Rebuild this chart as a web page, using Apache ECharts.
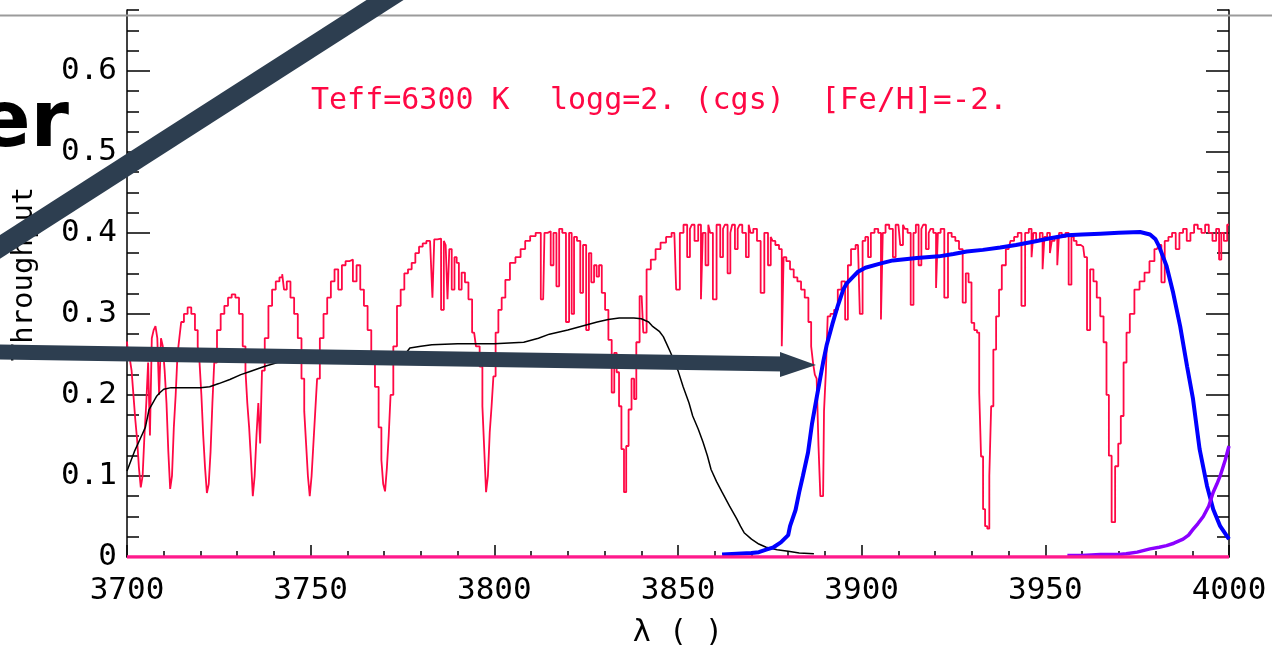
<!DOCTYPE html>
<html><head><meta charset="utf-8">
<script src="https://cdn.jsdelivr.net/npm/echarts@6/dist/echarts.min.js"></script>
<style>html,body{margin:0;padding:0;background:#fff}#c{width:1272px;height:650px}</style>
</head><body><div id="c"></div>
<script>
// ---- data ----
const xTicks = [3700, 3750, 3800, 3850, 3900, 3950, 4000];
const yTicks = [0, 0.1, 0.2, 0.3, 0.4, 0.5, 0.6];
const titleParts = ['Teff=6300 K', 'logg=2. (cgs)', '[Fe/H]=-2.'];
const xName = 'λ ( )';
const yName = 'Throughput';

// synthetic stellar spectrum [wavelength, flux]
const redSpectrum = [
[3700,0.266],[3700.5,0.25],[3701,0.245],[3701.5,0.23],[3702,0.20],[3702.5,0.17],[3703,0.145],[3703.5,0.11],[3704,0.086],[3704.5,0.10],
[3705,0.15],[3705.5,0.19],[3706,0.24],[3706.5,0.15],[3707,0.27],[3707.5,0.28],[3708,0.285],[3708.5,0.27],[3709,0.20],[3709.5,0.27],
[3710,0.26],[3710.5,0.23],[3711,0.19],[3711.5,0.13],[3712,0.084],[3712.5,0.10],[3713,0.16],[3713.5,0.20],[3714,0.25],[3714.5,0.27],
[3715,0.29],[3716,0.30],[3717,0.308],[3718,0.30],[3719,0.28],[3719.5,0.26],[3720,0.24],[3720.5,0.20],[3721,0.15],[3721.5,0.11],
[3722,0.079],[3722.5,0.09],[3723,0.13],[3723.5,0.19],[3724,0.24],[3725,0.28],[3726,0.30],[3727,0.31],[3728,0.32],[3729,0.324],
[3730,0.32],[3731,0.30],[3732,0.26],[3732.5,0.23],[3733,0.19],[3733.5,0.16],[3734,0.12],[3734.5,0.075],[3735,0.10],[3735.5,0.15],
[3736,0.19],[3736.5,0.14],[3737,0.23],[3738,0.27],[3739,0.31],[3740,0.33],[3741,0.34],[3742,0.345],[3742.5,0.349],[3743,0.33],
[3744,0.34],[3745,0.32],[3746,0.30],[3747,0.27],[3748,0.22],[3748.5,0.18],[3749,0.14],[3749.5,0.10],[3750,0.075],[3750.5,0.10],
[3751,0.14],[3751.5,0.18],[3752,0.22],[3753,0.27],[3754,0.30],[3755,0.32],[3756,0.34],[3757,0.355],[3758,0.33],[3759,0.36],
[3760,0.365],[3761,0.367],[3762,0.34],[3763,0.36],[3764,0.33],[3765,0.31],[3766,0.28],[3767,0.25],[3768,0.21],[3769,0.16],
[3769.5,0.12],[3770,0.09],[3770.5,0.081],[3771,0.11],[3771.5,0.15],[3772,0.20],[3773,0.26],[3774,0.31],[3775,0.33],[3776,0.35],
[3777,0.355],[3778,0.363],[3779,0.375],[3780,0.383],[3781,0.387],[3782,0.39],[3783,0.39],[3783.3,0.32],[3784,0.392],[3785,0.393],
[3786,0.305],[3786.5,0.39],[3787,0.385],[3787.5,0.318],[3788,0.38],[3788.8,0.33],[3789.5,0.37],[3790,0.363],[3790.7,0.33],[3791.5,0.351],
[3792.5,0.339],[3793.4,0.318],[3794.5,0.277],[3795.5,0.26],[3796.5,0.235],[3797,0.186],[3797.5,0.133],[3798,0.08],[3798.5,0.10],[3799,0.154],
[3799.5,0.186],[3800,0.223],[3800.7,0.277],[3801.5,0.305],[3802.5,0.32],[3803.5,0.342],[3805,0.363],[3806.5,0.37],[3807.8,0.38],[3809,0.39],
[3810.5,0.396],[3812,0.40],[3813.3,0.318],[3814,0.40],[3815,0.402],[3815.7,0.36],[3816.5,0.40],[3817.3,0.334],[3818,0.405],[3819,0.40],
[3820,0.29],[3820.7,0.40],[3821.4,0.30],[3822,0.395],[3823,0.39],[3823.8,0.326],[3824.5,0.385],[3825.5,0.28],[3826,0.375],[3826.8,0.339],
[3827.5,0.36],[3828.2,0.346],[3828.8,0.36],[3829.7,0.326],[3830.6,0.305],[3831.5,0.268],[3832.4,0.203],[3832.9,0.252],[3833.7,0.228],[3834.2,0.186],
[3835,0.133],[3835.6,0.08],[3836.2,0.137],[3836.9,0.182],[3837.8,0.22],[3838.3,0.195],[3839,0.265],[3840.1,0.322],[3841,0.277],[3841.9,0.355],
[3843.3,0.367],[3844.5,0.38],[3846,0.388],[3847.5,0.395],[3849,0.40],[3850,0.33],[3851,0.40],[3852,0.41],[3853,0.37],[3853.5,0.405],
[3854,0.41],[3855,0.39],[3856,0.41],[3856.5,0.318],[3857,0.40],[3858,0.36],[3858.5,0.41],[3859,0.40],[3860,0.318],[3861,0.41],
[3862,0.37],[3862.5,0.405],[3863,0.41],[3864,0.35],[3864.5,0.40],[3865,0.41],[3866,0.38],[3866.5,0.405],[3867,0.41],[3868,0.40],
[3869,0.37],[3869.5,0.41],[3870,0.40],[3871,0.405],[3872,0.39],[3873,0.326],[3874,0.40],[3875,0.36],[3875.5,0.395],[3876,0.39],
[3877,0.385],[3878,0.38],[3878.5,0.26],[3879,0.37],[3880,0.365],[3881,0.355],[3882,0.345],[3883,0.34],[3884,0.33],[3885,0.32],
[3886,0.29],[3886.5,0.26],[3887,0.24],[3887.5,0.225],[3888,0.22],[3888.5,0.137],[3889,0.075],[3889.5,0.075],[3890,0.18],[3890.5,0.228],
[3891,0.297],[3892,0.30],[3893,0.305],[3894,0.33],[3895,0.34],[3896,0.293],[3896.5,0.36],[3897.7,0.38],[3899,0.385],[3900,0.30],
[3900.5,0.39],[3901.5,0.395],[3902,0.37],[3903,0.40],[3904,0.405],[3905,0.40],[3905.5,0.293],[3906,0.40],[3907,0.41],[3908,0.405],
[3909,0.37],[3909.5,0.41],[3910,0.41],[3911,0.385],[3911.5,0.41],[3912,0.405],[3913,0.40],[3913.7,0.311],[3914.5,0.40],[3915,0.41],
[3916,0.36],[3916.5,0.405],[3917,0.41],[3918,0.38],[3918.5,0.40],[3919,0.405],[3920,0.40],[3920.5,0.332],[3921,0.40],[3922,0.405],
[3923,0.32],[3924,0.40],[3925,0.395],[3926,0.39],[3927,0.38],[3928,0.314],[3928.7,0.35],[3929.5,0.339],[3930.3,0.289],[3931,0.28],
[3931.8,0.277],[3932.2,0.203],[3932.8,0.124],[3933.3,0.059],[3933.9,0.038],[3934.5,0.035],[3935,0.10],[3935.5,0.186],[3936.2,0.256],[3937,0.297],
[3937.8,0.33],[3938.5,0.36],[3940,0.38],[3941,0.39],[3942,0.395],[3943,0.40],[3944,0.31],[3945,0.40],[3946,0.405],[3946.5,0.37],
[3947,0.40],[3948,0.39],[3949,0.40],[3949.5,0.355],[3950,0.395],[3951,0.40],[3951.5,0.375],[3952,0.39],[3953,0.395],[3953.5,0.36],
[3954,0.40],[3955,0.395],[3956,0.40],[3956.7,0.336],[3957.5,0.395],[3958,0.39],[3959,0.385],[3960.3,0.383],[3961,0.37],[3961.7,0.28],
[3962.7,0.355],[3963.5,0.34],[3964.5,0.32],[3965.4,0.297],[3966.3,0.265],[3967,0.20],[3967.6,0.125],[3968.5,0.043],[3969.5,0.112],[3970.2,0.14],
[3970.9,0.174],[3971.7,0.24],[3972.5,0.277],[3973.5,0.30],[3975,0.33],[3976.3,0.34],[3977.7,0.351],[3979,0.365],[3980.4,0.38],[3981.2,0.385],
[3982,0.339],[3983,0.39],[3984,0.395],[3985,0.40],[3986,0.38],[3987,0.40],[3988,0.405],[3989,0.39],[3990,0.40],[3991,0.41],
[3992,0.405],[3993,0.40],[3994,0.41],[3995,0.40],[3996,0.39],[3997,0.405],[3997.6,0.367],[3998.2,0.40],[3999,0.39],[4000,0.41]
];

// filter throughput curves [wavelength, throughput]
const blackFilter = [
[3700,0.106],[3702,0.13],[3704,0.15],[3705,0.16],[3706,0.182],[3708,0.198],[3709,0.203],[3710,0.207],[3712,0.209],[3716,0.209],
[3720,0.209],[3722.5,0.21],[3725,0.214],[3728,0.219],[3731,0.225],[3733.5,0.229],[3736,0.233],[3738,0.236],[3741,0.24],[3745,0.241],
[3750,0.241],[3755,0.241],[3760,0.242],[3765,0.242],[3770,0.243],[3774,0.245],[3776,0.252],[3777,0.258],[3780,0.26],[3783,0.262],
[3790,0.263],[3800,0.263],[3808,0.265],[3812,0.27],[3815,0.275],[3820,0.28],[3824,0.285],[3828,0.29],[3831,0.293],[3834,0.295],
[3838,0.295],[3840,0.294],[3842,0.29],[3843,0.285],[3845,0.278],[3846,0.272],[3847,0.262],[3848,0.252],[3850,0.23],[3851.4,0.21],
[3853,0.19],[3854,0.174],[3855.5,0.158],[3856.8,0.142],[3858,0.125],[3859,0.108],[3860.5,0.093],[3862,0.08],[3864,0.063],[3866,0.047],
[3867,0.038],[3868,0.03],[3870,0.022],[3872,0.016],[3874,0.012],[3877,0.009],[3880,0.007],[3883,0.005],[3887,0.004]
];
const blueFilter = [
[3862,0.003],[3866,0.004],[3870,0.005],[3872,0.006],[3874,0.009],[3876,0.012],[3878,0.018],[3880,0.027],[3880.5,0.038],[3882,0.058],
[3883,0.08],[3884,0.1],[3885.4,0.129],[3886.5,0.165],[3887.8,0.198],[3889.5,0.24],[3890.5,0.262],[3892,0.287],[3893.5,0.31],[3895,0.33],
[3896,0.338],[3897.7,0.346],[3899,0.352],[3901,0.357],[3905,0.362],[3908.5,0.366],[3915,0.369],[3921,0.371],[3925,0.374],[3928.6,0.377],
[3933,0.379],[3937.7,0.382],[3942,0.385],[3946.7,0.389],[3951,0.393],[3955.9,0.397],[3960,0.398],[3965,0.399],[3970,0.4],[3975.8,0.401],
[3978.5,0.398],[3980,0.392],[3981,0.383],[3983,0.359],[3984.8,0.326],[3986.7,0.285],[3988.6,0.235],[3990.2,0.195],[3992,0.133],[3994,0.088],
[3995.7,0.059],[3997.6,0.038],[4000,0.022]
];
const purpleFilter = [
[3956,0.002],[3960,0.002],[3965,0.003],[3970,0.003],[3972,0.004],[3975,0.006],[3978.5,0.01],[3981,0.012],[3983,0.014],[3985,0.017],
[3987.5,0.022],[3989,0.027],[3990.2,0.034],[3991.5,0.041],[3993,0.05],[3994.5,0.063],[3995.7,0.08],[3996.7,0.09],[3997.6,0.10],[3999,0.12],
[4000,0.137]
];
const baseline = [[3700, 0], [4000, 0]];

// ---- chart ----
const FONT = 'DejaVu Sans Mono';
const RED = '#ff0844';
const DARK = '#2d3e50';
const chart = echarts.init(document.getElementById('c'), null, {renderer: 'canvas'});

function yAxisDef(pos, showLabels) {
  return {
    type: 'value', position: pos, min: 0, max: 0.675, interval: 0.1,
    axisLine: {show: true, lineStyle: {color: '#000', width: 1.5}},
    axisTick: {show: true, inside: true, length: 23, customValues: yTicks, lineStyle: {color: '#000', width: 1.5}},
    minorTick: {show: true, splitNumber: 4, length: 12, lineStyle: {color: '#000', width: 1.5}},
    axisLabel: {show: showLabels, customValues: yTicks, margin: 10, fontFamily: FONT, fontSize: 31, color: '#000',
      formatter: v => v === 0 ? '0' : v.toFixed(1)},
    splitLine: {show: false}, minorSplitLine: {show: false}
  };
}

chart.setOption({
  animation: false,
  backgroundColor: '#fff',
  grid: {left: 127, right: 43, top: 10, bottom: 93, containLabel: false, outerBoundsMode: 'none'},
  xAxis: {
    type: 'value', min: xTicks[0], max: xTicks[xTicks.length - 1], interval: 50,
    axisLine: {show: true, lineStyle: {color: '#000', width: 1.5}},
    axisTick: {show: true, inside: true, length: 12, lineStyle: {color: '#000', width: 1.5}},
    minorTick: {show: true, splitNumber: 5, length: 6, lineStyle: {color: '#000', width: 1.5}},
    axisLabel: {margin: 18, fontFamily: FONT, fontSize: 31, color: '#000', formatter: v => String(v)},
    splitLine: {show: false},
    name: xName, nameLocation: 'middle', nameGap: 61,
    nameTextStyle: {fontFamily: FONT, fontSize: 30, color: '#000'}
  },
  yAxis: [yAxisDef('left', true), yAxisDef('right', false)],
  series: [
    {type: 'line', data: redSpectrum, step: 'middle', showSymbol: false, z: 2,
      lineStyle: {color: RED, width: 1.8}},
    {type: 'line', data: blackFilter, showSymbol: false, z: 3, lineStyle: {color: '#000', width: 1.5}},
    {type: 'line', data: blueFilter, showSymbol: false, z: 4, lineStyle: {color: '#0000ff', width: 4}},
    {type: 'line', data: purpleFilter, showSymbol: false, z: 4, lineStyle: {color: '#8b00ff', width: 3.5}},
    {type: 'line', data: baseline, showSymbol: false, z: 5, lineStyle: {color: '#ff1a8c', width: 3.5}}
  ],
  graphic: [
    {type: 'line', z: 50, shape: {x1: 0, y1: 15.5, x2: 1272, y2: 15.5}, style: {stroke: '#9b9b9b', lineWidth: 2}},
    {type: 'text', z: 60, x: 311, y: 101, style: {text: titleParts[0], fontFamily: FONT, fontSize: 30, fill: RED, verticalAlign: 'middle'}},
    {type: 'text', z: 60, x: 550, y: 101, style: {text: titleParts[1], fontFamily: FONT, fontSize: 30, fill: RED, verticalAlign: 'middle'}},
    {type: 'text', z: 60, x: 821, y: 101, style: {text: titleParts[2], fontFamily: FONT, fontSize: 31, fill: RED, verticalAlign: 'middle'}},
    {type: 'text', z: 60, x: 24, y: 274, rotation: Math.PI / 2,
      style: {text: yName, fontFamily: FONT, fontSize: 29, fill: '#000', align: 'center', verticalAlign: 'middle'}},
    {type: 'text', z: 60, x: 69, y: 126, style: {text: 'er', fontFamily: 'DejaVu Sans', fontWeight: 'bold', fontSize: 78, fill: '#000', align: 'right', verticalAlign: 'middle'}},
    {type: 'line', z: 100, shape: {x1: -10, y1: 253.4, x2: 400, y2: -9.6}, style: {stroke: DARK, lineWidth: 20}},
    {type: 'line', z: 100, shape: {x1: -5, y1: 352, x2: 784, y2: 364}, style: {stroke: DARK, lineWidth: 15}},
    {type: 'polygon', z: 100, shape: {points: [[780, 352], [816, 365], [780, 377]]}, style: {fill: DARK}}
  ]
});
</script>
</body></html>
